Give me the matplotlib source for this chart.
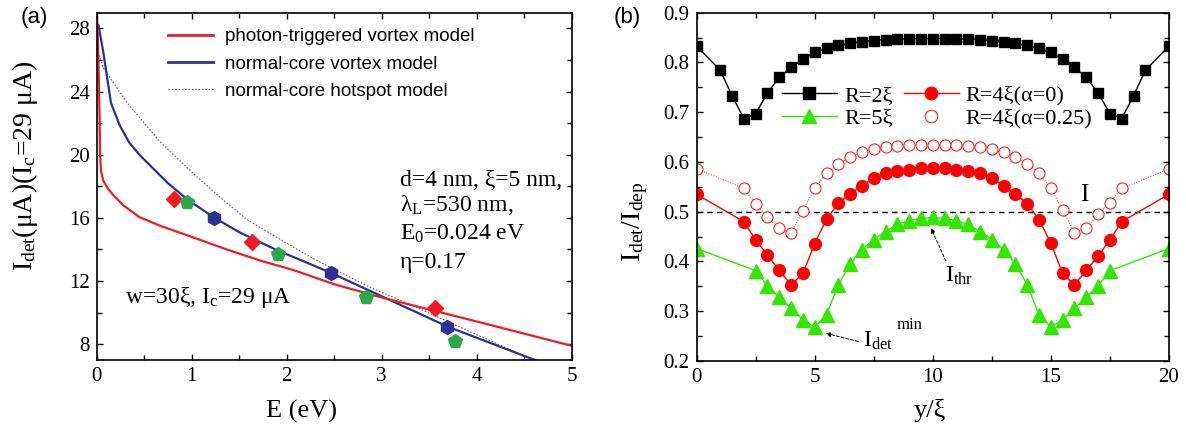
import numpy as np
import matplotlib
matplotlib.use('Agg')
import matplotlib.pyplot as plt
from matplotlib.lines import Line2D

plt.rcParams['font.family'] = ['Liberation Serif', 'DejaVu Serif']
plt.rcParams['mathtext.fontset'] = 'custom'
plt.rcParams['mathtext.rm'] = 'Liberation Serif'
plt.rcParams['mathtext.it'] = 'Liberation Serif'
plt.rcParams['mathtext.bf'] = 'Liberation Serif:bold'

# ---------------- Panel (a) data ----------------
red_E = [0.0, 0.01, 0.026, 0.037, 0.045, 0.07, 0.12, 0.175, 0.28, 0.45, 0.67, 1.0, 1.37, 1.72, 2.07, 2.5, 3.0, 3.5, 4.0, 4.5, 5.0]
red_I = [29.0, 28.0, 24.0, 20.0, 19.0, 18.35, 17.85, 17.45, 16.8, 16.05, 15.5, 14.8, 14.0, 13.3, 12.7, 11.8, 10.96, 10.2, 9.44, 8.67, 7.9]

blue_E = [0.02, 0.07, 0.15, 0.24, 0.34, 0.45, 0.6, 0.75, 0.97, 1.23, 1.5, 1.9, 2.2, 2.48, 3.05, 3.7, 4.2, 4.7]
blue_I = [28.2, 26.5, 23.3, 21.9, 20.8, 20.0, 19.1, 18.2, 17.1, 16.05, 15.1, 13.95, 13.2, 12.48, 10.9, 9.1, 7.95, 6.8]

gray_E = [0.03, 0.07, 0.32, 0.67, 1.02, 1.3, 1.58, 2.07, 2.35, 2.88, 3.4, 4.0, 4.6]
gray_I = [26.3, 25.5, 23.3, 20.8, 18.8, 17.3, 15.9, 14.15, 13.2, 11.6, 10.25, 8.6, 7.0]

dia_E = [0.81, 1.63, 3.56]
dia_I = [17.2, 14.47, 10.31]
pent_E = [0.95, 1.91, 2.84, 3.77]
pent_I = [17.0, 13.74, 11.0, 8.21]
hex_E = [1.23, 2.47, 3.69]
hex_I = [16.01, 12.52, 9.11]

legend_a = ['photon-triggered vortex model', 'normal-core vortex model', 'normal-core hotspot model']

# ---------------- Panel (b) data ----------------
x_R2 = [0, 1, 1.5] + list(np.arange(2, 18.01, 0.5)) + [18.5, 19, 20]
y_R2 = [0.833, 0.784, 0.733,
        0.687, 0.697, 0.739, 0.770, 0.790, 0.806, 0.820, 0.828, 0.834, 0.838, 0.842, 0.844, 0.846, 0.847, 0.847, 0.848, 0.848,
        0.848, 0.847, 0.847, 0.846, 0.844, 0.842, 0.838, 0.834, 0.828, 0.820, 0.806, 0.790, 0.770, 0.739, 0.697, 0.687,
        0.733, 0.784, 0.833]

x_R4 = [0] + list(np.arange(2, 18.01, 0.5)) + [20]
y_R4 = [0.535,
        0.480, 0.443, 0.413, 0.382, 0.353, 0.376, 0.436, 0.485, 0.517, 0.536, 0.552, 0.568, 0.578, 0.581, 0.584, 0.587, 0.587,
        0.587, 0.584, 0.581, 0.578, 0.568, 0.552, 0.536, 0.516, 0.484, 0.437, 0.376, 0.353, 0.382, 0.411, 0.443, 0.480,
        0.535]

x_R4a = [0] + list(np.arange(2, 18.01, 0.5)) + [20]
y_R4a = [0.586,
         0.547, 0.516, 0.489, 0.467, 0.457, 0.502, 0.547, 0.578, 0.596, 0.610, 0.619, 0.626, 0.631, 0.633, 0.634, 0.635, 0.635,
         0.635, 0.634, 0.633, 0.631, 0.626, 0.619, 0.610, 0.596, 0.578, 0.547, 0.503, 0.458, 0.467, 0.495, 0.518, 0.547,
         0.586]

x_R5 = [0] + list(np.arange(2.5, 17.51, 0.5)) + [20]
y_R5 = [0.426,
        0.3815, 0.351, 0.328, 0.306, 0.283, 0.268, 0.293, 0.353, 0.395, 0.424, 0.444, 0.460, 0.4745, 0.482, 0.4865, 0.4885,
        0.4865, 0.482, 0.4745, 0.460, 0.444, 0.424, 0.395, 0.353, 0.293, 0.268, 0.283, 0.306, 0.328, 0.351, 0.3815,
        0.426]

legend_b = ['R=2ξ', 'R=5ξ', 'R=4ξ(α=0)', 'R=4ξ(α=0.25)']

# ---------------- Figure ----------------
fig = plt.figure(figsize=(11.86, 4.36), dpi=100)
axa = fig.add_axes([0.0815, 0.1743, 0.4005, 0.7966])
axb = fig.add_axes([0.5874, 0.172, 0.3982, 0.799])

RED = '#ee1c24'
BLUE = '#2e3192'

axa.plot(gray_E, gray_I, color='#666666', lw=0.8, ls=(0, (1.5, 1.5)))
axa.plot(blue_E, blue_I, color=BLUE, lw=1.6)
axa.plot(red_E, red_I, color=RED, lw=1.6)
axa.plot(dia_E, dia_I, ls='none', marker='D', ms=8, color=RED)
axa.plot(pent_E, pent_I, ls='none', marker='p', ms=10, color='#2aa84a')
axa.plot(hex_E, hex_I, ls='none', marker='h', ms=10, color=BLUE)

axa.set_xlim(0, 5)
axa.set_ylim(7, 29)
axa.set_xticks([0, 1, 2, 3, 4, 5])
axa.set_xticks(np.arange(0.5, 5, 1.0), minor=True)
axa.set_yticks([8, 12, 16, 20, 24, 28])
axa.set_yticks([10, 14, 18, 22, 26], minor=True)

ha = [Line2D([], [], color=RED, lw=2),
      Line2D([], [], color=BLUE, lw=2),
      Line2D([], [], color='#666666', lw=0.8, ls=(0, (1.5, 1.5)))]
axa.legend(ha, legend_a, loc='upper left', bbox_to_anchor=(0.15, 0.955), frameon=False,
           prop={'family': 'Liberation Sans', 'size': 13.5}, handlelength=2.4, handletextpad=0.65,
           labelspacing=0.54, borderpad=0, borderaxespad=0)

tfs = 17
axa.text(3.19, 18.4, 'd=4 nm, ξ=5 nm,', fontsize=tfs, va='center')
axa.text(3.19, 16.8, r'λ$_{\rm L}$=530 nm,', fontsize=tfs, va='center')
axa.text(3.19, 15.0, r'E$_{\rm 0}$=0.024 eV', fontsize=tfs, va='center')
axa.text(3.19, 13.2, 'η=0.17', fontsize=tfs, va='center')
axa.text(0.3, 10.95, r'w=30ξ, I$_{\rm c}$=29 μA', fontsize=tfs, va='center')

axa.set_xlabel('E (eV)', fontsize=19)
axa.set_ylabel(r'I$_{\rm det}$(μA)(I$_{\rm c}$=29 μA)', fontsize=20)
axa.xaxis.set_label_coords(0.431, -0.115)
axa.yaxis.set_label_coords(-0.119, 0.56)

# Panel (b)
axb.axhline(0.5, color='black', lw=1.0, ls=(0, (4, 3)))
axb.plot(x_R2, y_R2, color='black', lw=1.0, marker='s', ms=7)
axb.plot(x_R4a, y_R4a, color='#ff2020', lw=0.7, ls=':', marker='o', ms=8, mfc='white', mec='#ff2020', mew=0.8)
axb.plot(x_R4, y_R4, color='#ff0000', lw=1.0, marker='o', ms=8.5)
axb.plot(x_R5, y_R5, color='#33e600', lw=1.0, marker='^', ms=9.5)

axb.set_xlim(0, 20)
axb.set_ylim(0.2, 0.9)
axb.set_xticks([0, 5, 10, 15, 20])
axb.set_xticks([2.5, 7.5, 12.5, 17.5], minor=True)
axb.set_yticks(np.round(np.arange(0.2, 0.91, 0.1), 1))
axb.set_yticks(np.arange(0.25, 0.9, 0.1), minor=True)

hb = [Line2D([], [], color='black', lw=1.0, marker='s', ms=9),
      Line2D([], [], color='#33e600', lw=1.0, marker='^', ms=10),
      Line2D([], [], color='#ff0000', lw=1.0, marker='o', ms=9),
      Line2D([], [], color='#ff2020', ls='none', marker='o', ms=9, mfc='white', mew=0.8)]
axb.legend(hb, legend_b, loc='upper left', bbox_to_anchor=(0.18, 0.792), ncol=2, frameon=False,
           fontsize=16, handlelength=2.5, handletextpad=0.3, columnspacing=0.5,
           labelspacing=0.1, borderpad=0, borderaxespad=0)

axb.text(16.4, 0.533, 'I', fontsize=18, ha='center', va='center')
axb.text(10.5, 0.372, r'I$_{\rm thr}$', fontsize=17, ha='left', va='center')
axb.annotate('', xy=(9.88, 0.472), xytext=(10.6, 0.396),
             arrowprops=dict(arrowstyle='-|>', ls=(0, (3, 2)), lw=0.7, color='black', mutation_scale=7))
axb.text(7.05, 0.24, r'I$_{\rm det}$', fontsize=17, ha='left', va='center')
axb.text(8.45, 0.272, 'min', fontsize=12, ha='left', va='center')
axb.annotate('', xy=(5.36, 0.257), xytext=(6.95, 0.238),
             arrowprops=dict(arrowstyle='-|>', ls=(0, (3, 2)), lw=0.7, color='black', mutation_scale=7))

axb.set_xlabel('y/ξ', fontsize=19)
axb.set_ylabel(r'I$_{\rm det}$/I$_{\rm dep}$', fontsize=20)
axb.xaxis.set_label_coords(0.494, -0.11)
axb.yaxis.set_label_coords(-0.099, 0.40)

for ax in (axa, axb):
    ax.tick_params(which='both', direction='in', top=True, right=True, width=1.0, labelsize=15)
    ax.tick_params(which='major', length=4.5, pad=5)
    ax.tick_params(which='minor', length=3.5)
    for s in ax.spines.values():
        s.set_linewidth(1.2)

fig.text(34 / 1186, 1 - 17 / 436, '(a)', fontsize=16, family='Liberation Sans', ha='center', va='center')
fig.text(627 / 1186, 1 - 17 / 436, '(b)', fontsize=16, family='Liberation Sans', ha='center', va='center')

fig.savefig('out.png', dpi=100)
